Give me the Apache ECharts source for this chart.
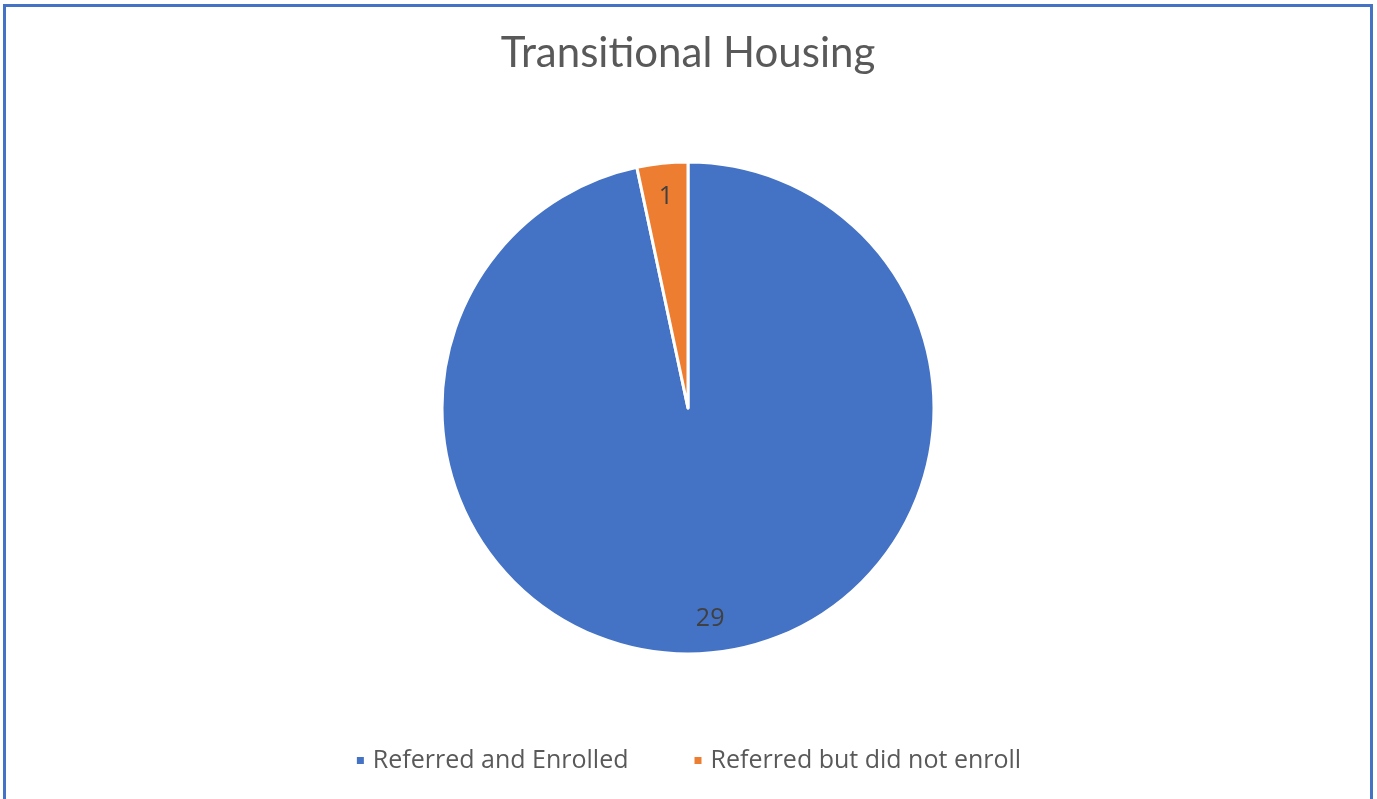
<!DOCTYPE html>
<html>
<head>
<meta charset="utf-8">
<script src="https://cdn.jsdelivr.net/npm/echarts@6/dist/echarts.min.js"></script>
<style>
  html, body { margin: 0; padding: 0; background: #fff; }
  #chart {
    position: absolute; left: 3px; top: 4px;
    width: 1370px; height: 800px;
    border: 3px solid #4472C4; border-bottom: none;
    box-sizing: border-box;
  }
</style>
</head>
<body>
<div id="chart"></div>
<script>
// chart data
var categories = ['Referred and Enrolled', 'Referred but did not enroll'];
var values = [29, 1];
var colors = ['#4472C4', '#ED7D31'];

var myChart = echarts.init(document.getElementById('chart'));

var pieData = [];
for (var i = 0; i < categories.length; i++) {
	pieData.push({ name: categories[i], value: values[i], itemStyle: { color: colors[i] } });
}

var option = {
	animation: false,
	title: {
		text: 'Transitional Housing',
		left: 'center',
		top: 20,
		textStyle: { fontFamily: 'Lato', fontSize: 42, fontWeight: 'normal', color: '#595959' }
	},
	legend: {
		data: categories,
		bottom: 26,
		left: 'center',
		icon: 'rect',
		itemWidth: 9,
		itemHeight: 9,
		itemGap: 64,
		textStyle: { fontFamily: 'Open Sans', fontSize: 25, color: '#595959', padding: [0, 0, 0, 3] }
	},
	series: [
		{
			type: 'pie',
			center: [682, 401],
			radius: [0, 246],
			startAngle: 90,
			itemStyle: { borderColor: '#fff', borderWidth: 3 },
			label: { show: false },
			labelLine: { show: false },
			data: pieData
		},
		{
			// label-only ring so values sit near the outer edge
			type: 'pie',
			center: [682, 401],
			radius: [172, 246],
			startAngle: 90,
			silent: true,
			itemStyle: { color: 'rgba(0,0,0,0)' },
			label: {
				show: true,
				position: 'inside',
				formatter: '{c}',
				fontFamily: 'Open Sans',
				fontSize: 25,
				color: '#404040'
			},
			labelLine: { show: false },
			data: values.map(function (v, i) { return { name: categories[i], value: v }; })
		}
	]
};

myChart.setOption(option);
</script>
</body>
</html>
